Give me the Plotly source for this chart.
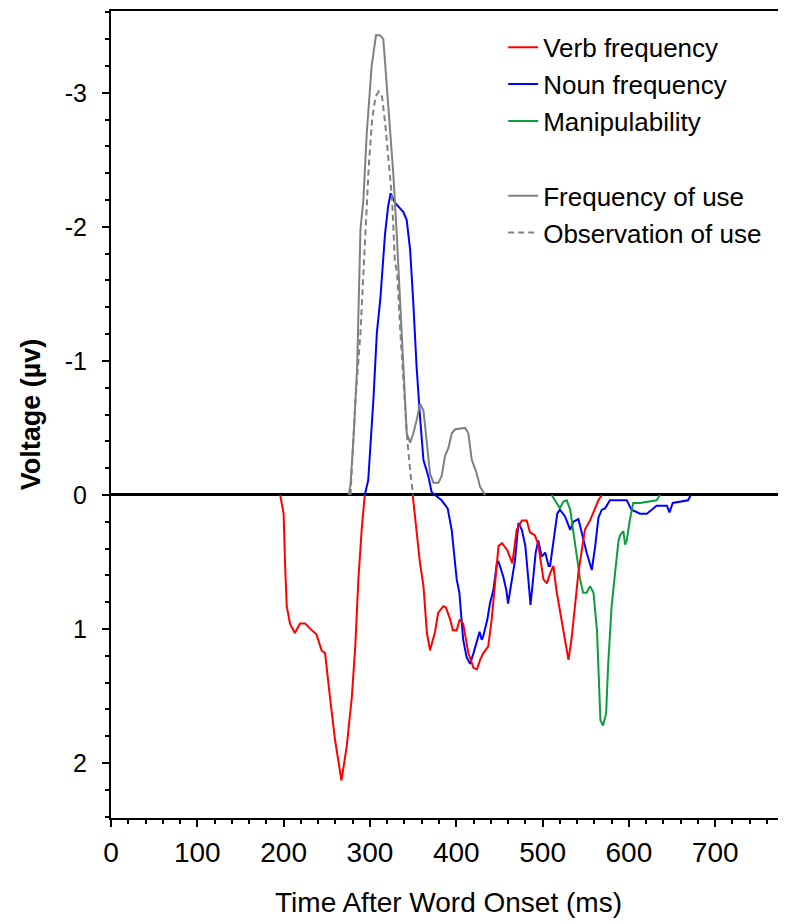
import plotly.graph_objects as go

# ---- data (time in ms, voltage in µV; negative plotted upward) ----
verb_t1 = [196, 200, 201.6, 203.6, 207.4, 213, 219, 225, 232.7, 238, 244, 248, 253.7, 259.6, 267, 273, 279, 283, 286.6, 290.4, 294]
verb_v1 = [0, 0.14, 0.51, 0.83, 0.96, 1.03, 0.96, 0.96, 1.01, 1.04, 1.16, 1.18, 1.51, 1.83, 2.13, 1.88, 1.51, 1.13, 0.63, 0.26, 0]

verb_t2 = [349.5, 354, 358, 362, 366, 369.6, 373, 375.4, 379, 385, 388, 393, 396, 400.5, 404, 408, 414, 420, 424, 427.6, 431.4, 437, 441, 445, 449, 453, 459, 465, 470, 476, 481.6, 485.5, 491, 495, 499, 501, 505, 509, 512.5, 516, 520, 524, 530, 533.8, 537.7, 541.5, 545, 549, 555, 561, 564.7, 568.6]
verb_v2 = [0, 0.26, 0.51, 0.68, 1.03, 1.16, 1.08, 1.02, 0.88, 0.83, 0.84, 0.93, 1.01, 1.01, 0.93, 0.96, 1.18, 1.29, 1.30, 1.23, 1.18, 1.13, 0.93, 0.68, 0.38, 0.36, 0.41, 0.51, 0.26, 0.19, 0.19, 0.28, 0.30, 0.37, 0.53, 0.63, 0.66, 0.58, 0.53, 0.71, 0.86, 1.01, 1.23, 1.06, 0.83, 0.58, 0.43, 0.26, 0.19, 0.10, 0.04, 0]

noun_t = [294, 298, 304, 308, 312, 317.5, 321, 324, 329, 335, 338.7, 342.6, 346.5, 350, 354, 358, 362, 367.6, 371.5, 383, 390, 394.7, 397.5, 400.5, 403.6, 406.3, 408, 412, 416, 420, 424, 427, 429.5, 431, 436, 439, 443, 447, 449, 454.5, 458, 460, 468, 472, 476, 480, 483.5, 486, 489, 492, 495, 499, 503, 507, 508.7, 512.5, 517, 520, 526, 532, 535.7, 541.5, 545, 551, 557, 561, 564.7, 568.6, 572.4, 578, 597.5, 603, 613, 620.7, 626.5, 632, 644, 647, 650.8, 659, 668.5, 671.7]
noun_v = [0, -0.11, -0.71, -1.21, -1.46, -1.95, -2.15, -2.25, -2.18, -2.14, -2.11, -2.05, -1.83, -1.46, -0.96, -0.58, -0.26, -0.14, -0.02, 0.04, 0.10, 0.26, 0.46, 0.63, 0.73, 0.96, 1.08, 1.21, 1.26, 1.18, 1.08, 1.02, 1.08, 1.06, 0.93, 0.81, 0.71, 0.51, 0.50, 0.61, 0.71, 0.81, 0.49, 0.21, 0.26, 0.38, 0.63, 0.82, 0.63, 0.43, 0.34, 0.46, 0.43, 0.53, 0.53, 0.34, 0.14, 0.11, 0.16, 0.26, 0.20, 0.18, 0.28, 0.43, 0.56, 0.38, 0.17, 0.11, 0.10, 0.04, 0.04, 0.11, 0.14, 0.14, 0.11, 0.08, 0.08, 0.13, 0.06, 0.05, 0.04, 0]

manip_t = [510.6, 516, 520, 524, 528, 532, 535.5, 539.6, 543.5, 547, 551, 555, 559, 563, 565, 567, 570, 573.6, 576, 580, 584, 588, 589.8, 593.6, 595.6, 597.5, 601, 605, 613, 620.7, 632, 636]
manip_v = [0, 0.06, 0.10, 0.05, 0.04, 0.11, 0.28, 0.46, 0.63, 0.73, 0.73, 0.68, 0.73, 1.01, 1.38, 1.68, 1.72, 1.63, 1.26, 0.83, 0.58, 0.34, 0.30, 0.27, 0.37, 0.34, 0.19, 0.06, 0.06, 0.05, 0.04, 0]

freq_t = [275.4, 277.4, 281.3, 285.2, 289, 292.4, 296.3, 302, 307, 311.7, 315.5, 319.4, 323, 327, 331, 335, 338.7, 342.6, 346.5, 350.3, 354.2, 358, 362, 365.8, 369.6, 373.5, 379.3, 383, 387, 390.9, 394.8, 398.6, 410.2, 414, 418, 423.7, 427.6, 433.4]
freq_v = [0, -0.07, -0.46, -0.96, -1.98, -2.20, -2.70, -3.20, -3.43, -3.43, -3.40, -3.07, -2.70, -2.40, -1.95, -1.46, -0.96, -0.46, -0.39, -0.46, -0.56, -0.68, -0.63, -0.41, -0.16, -0.09, -0.09, -0.14, -0.29, -0.35, -0.46, -0.49, -0.50, -0.46, -0.26, -0.16, -0.06, 0]

obs_t = [277.4, 283.2, 289, 294.8, 298.6, 302.5, 306.4, 310.2, 314, 318, 321.8, 325.7, 328.8, 331.5, 335.3, 339.2, 343, 346.9, 350]
obs_v = [0, -0.71, -1.21, -1.95, -2.45, -2.80, -2.97, -3.01, -2.97, -2.75, -2.50, -2.20, -1.75, -1.65, -1.21, -0.83, -0.43, -0.16, 0]

y_ticks = [-3, -2, -1, 0, 1, 2]
y_ticktext = ["-3", "-2", "-1", "0", "1", "2"]
x_ticks = [0, 100, 200, 300, 400, 500, 600, 700]

RED = "#ff0000"
BLUE = "#0000ff"
GREEN = "#0a9e3c"
GRAY = "#808080"

fig = go.Figure()
fig.add_trace(go.Scatter(x=verb_t1, y=verb_v1, mode="lines", line=dict(color=RED, width=2),
                         name="Verb frequency", legendgroup="a"))
fig.add_trace(go.Scatter(x=noun_t, y=noun_v, mode="lines", line=dict(color=BLUE, width=2),
                         name="Noun frequency", legendgroup="a"))
fig.add_trace(go.Scatter(x=manip_t, y=manip_v, mode="lines", line=dict(color=GREEN, width=2),
                         name="Manipulability", legendgroup="a"))
fig.add_trace(go.Scatter(x=verb_t2, y=verb_v2, mode="lines", line=dict(color=RED, width=2),
                         name="Verb frequency", legendgroup="a", showlegend=False))
fig.add_trace(go.Scatter(x=freq_t, y=freq_v, mode="lines", line=dict(color=GRAY, width=2),
                         name="Frequency of use", legendgroup="b"))
fig.add_trace(go.Scatter(x=obs_t, y=obs_v, mode="lines", line=dict(color=GRAY, width=2, dash="6px,4px"),
                         name="Observation of use", legendgroup="b"))

FONT = "Liberation Sans, Arial, sans-serif"

fig.update_layout(
    width=778, height=916,
    margin=dict(l=103, r=0, t=3, b=106),
    paper_bgcolor="white", plot_bgcolor="white",
    font=dict(family=FONT, color="black"),
    showlegend=True,
    legend=dict(x=0.581, y=0.984, xanchor="left", yanchor="top",
                traceorder="grouped", tracegroupgap=38,
                font=dict(size=26, family=FONT, color="black"),
                bgcolor="rgba(0,0,0,0)", itemwidth=30),
    xaxis=dict(range=[0, 782], tickvals=x_ticks, showgrid=False, zeroline=False,
               showline=True, linecolor="black", linewidth=2, mirror=True,
               ticks="outside", ticklen=7, tickwidth=2, tickcolor="black",
               minor=dict(dtick=20, ticks="outside", ticklen=4, tickwidth=1.5, tickcolor="black"),
               tickfont=dict(size=28, family=FONT), ticklabelstandoff=1,
               title=dict(text="Time After Word Onset (ms)", font=dict(size=28, family=FONT), standoff=26)),
    yaxis=dict(range=[2.41, -3.61], tickvals=y_ticks, ticktext=y_ticktext, showgrid=False,
               zeroline=True, zerolinecolor="black", zerolinewidth=3, layer="above traces",
               showline=True, linecolor="black", linewidth=2,
               ticks="outside", ticklen=7, tickwidth=2, tickcolor="black",
               minor=dict(dtick=0.2, tick0=0, ticks="outside", ticklen=4, tickwidth=1.5, tickcolor="black"),
               tickfont=dict(size=25, family=FONT), ticklabelstandoff=10,
               title=dict(text="<b>Voltage (µv)</b>", font=dict(size=27, family=FONT), standoff=16)),
)

fig.write_html("out.html")
